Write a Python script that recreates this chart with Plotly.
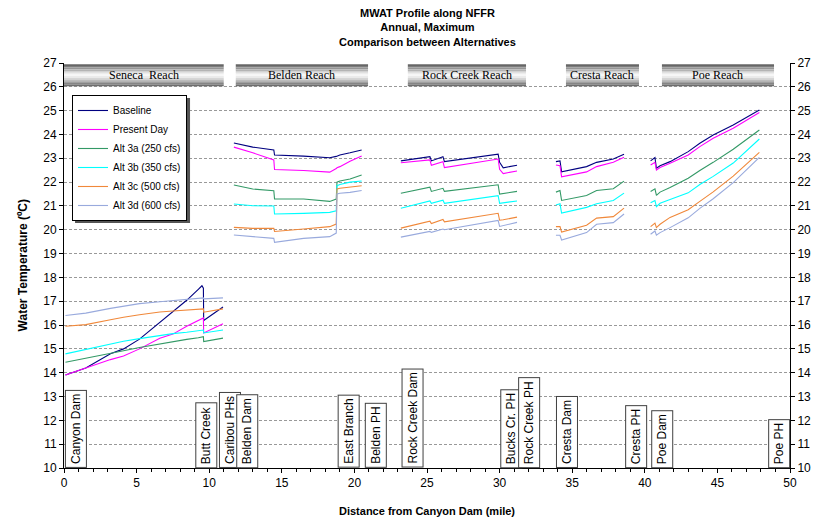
import plotly.graph_objects as go

# ---------------- data ----------------
series_names = ["Baseline", "Present Day", "Alt 3a (250 cfs)", "Alt 3b (350 cfs)",
                "Alt 3c (500 cfs)", "Alt 3d (600 cfs)"]
series_colors = ["#000080", "#FF00FF", "#339966", "#00FFFF", "#F0883A", "#99AADD"]

seneca_x = [0.1, 1.5, 3.2, 4.1, 5.2, 6.6, 7.5, 8.45, 9.25, 9.5, 9.6, 9.62, 10.95]
belden_x = [11.7, 13.0, 14.45, 14.5, 16.5, 18.3, 18.75, 18.8, 19.0, 19.7, 20.5]
rock_x = [23.2, 25.2, 25.3, 26.1, 26.2, 29.9, 30.0, 30.25, 31.2]
cresta_x = [33.88, 34.16, 34.27, 35.99, 36.68, 37.83, 38.57]
poe_x = [40.4, 40.7, 40.8, 41.05, 41.74, 42.99, 43.79, 44.71, 46.09, 47.89]

baseline = ([13.9, 14.2, 14.8, 15.0, 15.41, 16.1, 16.56, 17.04, 17.5, 17.65, 17.55, 16.19, 16.76]
            + [None] + [23.64, 23.47, 23.35, 23.14, 23.09, 23.02, 23.08, 23.09, 23.14, 23.23, 23.35]
            + [None] + [22.89, 23.07, 22.89, 23.07, 22.86, 23.17, 22.83, 22.6, 22.71]
            + [None] + [22.86, 22.89, 22.43, 22.65, 22.83, 22.97, 23.17]
            + [None] + [22.89, 23.03, 22.58, 22.69, 22.86, 23.28, 23.63, 23.98, 24.4, 25.03])
present_day = ([13.9, 14.2, 14.55, 14.7, 15.0, 15.45, 15.62, 15.95, 16.2, 16.3, 16.3, 15.67, 16.05]
               + [None] + [23.47, 23.23, 22.93, 22.53, 22.49, 22.42, 22.57, 22.6, 22.65, 22.88, 23.1]
               + [None] + [22.81, 22.93, 22.71, 22.86, 22.61, 22.97, 22.54, 22.36, 22.47]
               + [None] + [22.72, 22.69, 22.22, 22.43, 22.65, 22.83, 23.04]
               + [None] + [22.72, 22.83, 22.51, 22.61, 22.79, 23.14, 23.49, 23.84, 24.26, 24.92])
alt_3a = ([14.44, 14.6, 14.8, 14.92, 15.06, 15.22, 15.3, 15.4, 15.47, 15.5, 15.51, 15.31, 15.45]
          + [None] + [21.88, 21.71, 21.64, 21.29, 21.29, 21.19, 21.29, 22.0, 22.05, 22.13, 22.3]
          + [None] + [21.53, 21.79, 21.61, 21.74, 21.61, 21.89, 21.5, 21.52, 21.61]
          + [None] + [21.58, 21.65, 21.23, 21.44, 21.65, 21.72, 22.04]
          + [None] + [21.61, 21.72, 21.44, 21.58, 21.77, 22.16, 22.49, 22.83, 23.38, 24.19])
alt_3b = ([14.79, 14.98, 15.2, 15.32, 15.43, 15.57, 15.64, 15.7, 15.76, 15.78, 15.79, 15.67, 15.79]
          + [None] + [21.08, 21.01, 21.0, 20.66, 20.69, 20.73, 20.8, 21.85, 21.9, 22.0, 22.05]
          + [None] + [20.9, 21.21, 21.11, 21.24, 21.11, 21.43, 21.11, 21.13, 21.21]
          + [None] + [21.04, 21.09, 20.7, 20.94, 21.09, 21.23, 21.54]
          + [None] + [21.13, 21.23, 20.97, 21.11, 21.27, 21.55, 21.9, 22.24, 22.8, 23.81])
alt_3c = ([15.95, 16.02, 16.22, 16.33, 16.43, 16.55, 16.59, 16.64, 16.67, 16.68, 16.68, 16.54, 16.68]
          + [None] + [20.1, 20.06, 20.06, 19.93, 20.03, 20.13, 20.24, 21.71, 21.74, 21.78, 21.85]
          + [None] + [20.07, 20.36, 20.26, 20.43, 20.33, 20.69, 20.4, 20.42, 20.53]
          + [None] + [20.13, 20.13, 19.9, 20.19, 20.49, 20.55, 20.91]
          + [None] + [20.13, 20.28, 20.09, 20.23, 20.52, 20.84, 21.19, 21.59, 22.25, 23.25])
alt_3d = ([16.4, 16.5, 16.7, 16.8, 16.9, 16.98, 17.03, 17.08, 17.11, 17.13, 17.14, 17.1, 17.14]
          + [None] + [19.78, 19.72, 19.64, 19.47, 19.64, 19.71, 19.86, 21.5, 21.53, 21.57, 21.65]
          + [None] + [19.69, 19.93, 19.89, 20.03, 20.0, 20.39, 20.14, 20.17, 20.31]
          + [None] + [19.77, 19.77, 19.57, 19.88, 20.23, 20.3, 20.66]
          + [None] + [19.81, 19.95, 19.77, 19.88, 20.09, 20.5, 20.9, 21.3, 21.98, 23.04])

distance_mi = seneca_x + [None] + belden_x + [None] + rock_x + [None] + cresta_x + [None] + poe_x
series_values = [baseline, present_day, alt_3a, alt_3b, alt_3c, alt_3d]

reach_names = ["Seneca  Reach", "Belden Reach", "Rock Creek Reach", "Cresta Reach", "Poe Reach"]
reach_start_mi = [0.0, 11.83, 23.68, 34.57, 41.18]
reach_end_mi = [11.0, 20.94, 31.82, 39.60, 48.9]

station_names = ["Canyon Dam", "Butt Creek", "Caribou PHs", "Belden Dam", "East Branch",
                 "Belden PH", "Rock Creek Dam", "Bucks Cr. PH", "Rock Creek PH",
                 "Cresta Dam", "Cresta PH", "Poe Dam", "Poe PH"]
station_mi = [0.82, 9.8, 11.43, 12.62, 19.57, 21.44, 23.97, 30.77, 32.0,
              34.64, 39.37, 41.2, 49.22]

FONT = "Liberation Sans, Arial, sans-serif"

fig = go.Figure()
for name, col, vals in zip(series_names, series_colors, series_values):
    fig.add_trace(go.Scatter(x=distance_mi, y=vals, mode="lines", name=name,
                             line=dict(color=col, width=1.1), connectgaps=False))
# dummy trace for right axis
fig.add_trace(go.Scatter(x=[0], y=[10], yaxis="y2", mode="markers",
                         marker=dict(opacity=0), showlegend=False, hoverinfo="skip"))

# reach banners with vertical gradient
grad = ["#666666", "#7c7c7c", "#969696", "#b4b4b4", "#d2d2d2", "#ececec", "#f7f7f7",
        "#ebebeb", "#d6d6d6", "#bcbcbc", "#a0a0a0", "#858585", "#6e6e6e"]
y_top, y_bot = 26.95, 26.02
n = len(grad)
shapes = []
for s, e in zip(reach_start_mi, reach_end_mi):
    for i, c in enumerate(grad):
        y1 = y_top - (y_top - y_bot) * i / n
        y0 = y_top - (y_top - y_bot) * (i + 1) / n
        shapes.append(dict(type="rect", xref="x", yref="y", x0=s, x1=e, y0=y0, y1=y1,
                           fillcolor=c, line=dict(width=0), layer="above"))

annotations = []
for nm, s, e in zip(reach_names, reach_start_mi, reach_end_mi):
    annotations.append(dict(x=(s + e) / 2, y=(y_top + y_bot) / 2, xref="x", yref="y",
                            text=nm, showarrow=False,
                            font=dict(family="Liberation Serif, Times New Roman, serif",
                                      size=12, color="black")))
for nm, m in zip(station_names, station_mi):
    annotations.append(dict(x=m, y=10, xref="x", yref="y", text=nm, textangle=-90,
                            showarrow=False, xanchor="center", yanchor="bottom",
                            bgcolor="white", bordercolor="#404040", borderwidth=1,
                            borderpad=3, font=dict(family=FONT, size=12, color="black")))

# title
annotations.append(dict(x=0.5, y=1.143, xref="paper", yref="paper", xanchor="center",
                        yanchor="top", showarrow=False, align="center",
                        text="<b>MWAT Profile along NFFR<br>Annual, Maximum<br>"
                             "Comparison between Alternatives</b>",
                        font=dict(family=FONT, size=11, color="black")))
# axis titles
annotations.append(dict(x=-0.069, y=0.5, xref="paper", yref="paper", textangle=-90,
                        showarrow=False, text="<b>Water Temperature (ºC)</b>",
                        font=dict(family=FONT, size=12, color="black")))
annotations.append(dict(x=0.5, y=-0.087, xref="paper", yref="paper", yanchor="top",
                        showarrow=False, text="<b>Distance from Canyon Dam (mile)</b>",
                        font=dict(family=FONT, size=11, color="black")))

# legend shadow
shapes.append(dict(type="rect", xref="paper", yref="paper", x0=0.0152, x1=0.1736,
                   y0=0.605, y1=0.9136, fillcolor="#555555", line=dict(width=0),
                   layer="above"))

fig.update_layout(
    width=815, height=521,
    margin=dict(l=64, r=25, t=63, b=53),
    paper_bgcolor="white", plot_bgcolor="white",
    font=dict(family=FONT, size=12, color="black"),
    xaxis=dict(range=[0, 50], tickmode="linear", tick0=0, dtick=5, showgrid=False,
               showline=True, linecolor="black", linewidth=1, ticks="outside", ticklen=4,
               tickcolor="black", zeroline=False, automargin=False,
               minor=dict(dtick=1, ticks="outside", ticklen=3, tickcolor="black"),
               tickfont=dict(size=12)),
    yaxis=dict(range=[10, 27], tickmode="linear", tick0=10, dtick=1, showgrid=True,
               gridcolor="#999999", griddash="3px,2px", gridwidth=1, automargin=False,
               showline=True, linecolor="black", linewidth=1, ticks="outside", ticklen=4,
               tickcolor="black", zeroline=False, tickfont=dict(size=12)),
    yaxis2=dict(range=[10, 27], tickmode="linear", tick0=10, dtick=1, overlaying="y",
                side="right", showgrid=False, showline=True, linecolor="black", linewidth=1,
                ticks="outside", ticklen=4, tickcolor="black", zeroline=False,
                automargin=False, tickfont=dict(size=12)),
    legend=dict(x=0.011, y=0.921, xanchor="left", yanchor="top", bgcolor="white",
                bordercolor="black", borderwidth=1, font=dict(family=FONT, size=10),
                tracegroupgap=0, itemwidth=30),
    shapes=shapes,
    annotations=annotations,
    showlegend=True,
)

fig.write_html("out.html", config={"displayModeBar": False},
               post_script="document.body.style.margin='0';")
